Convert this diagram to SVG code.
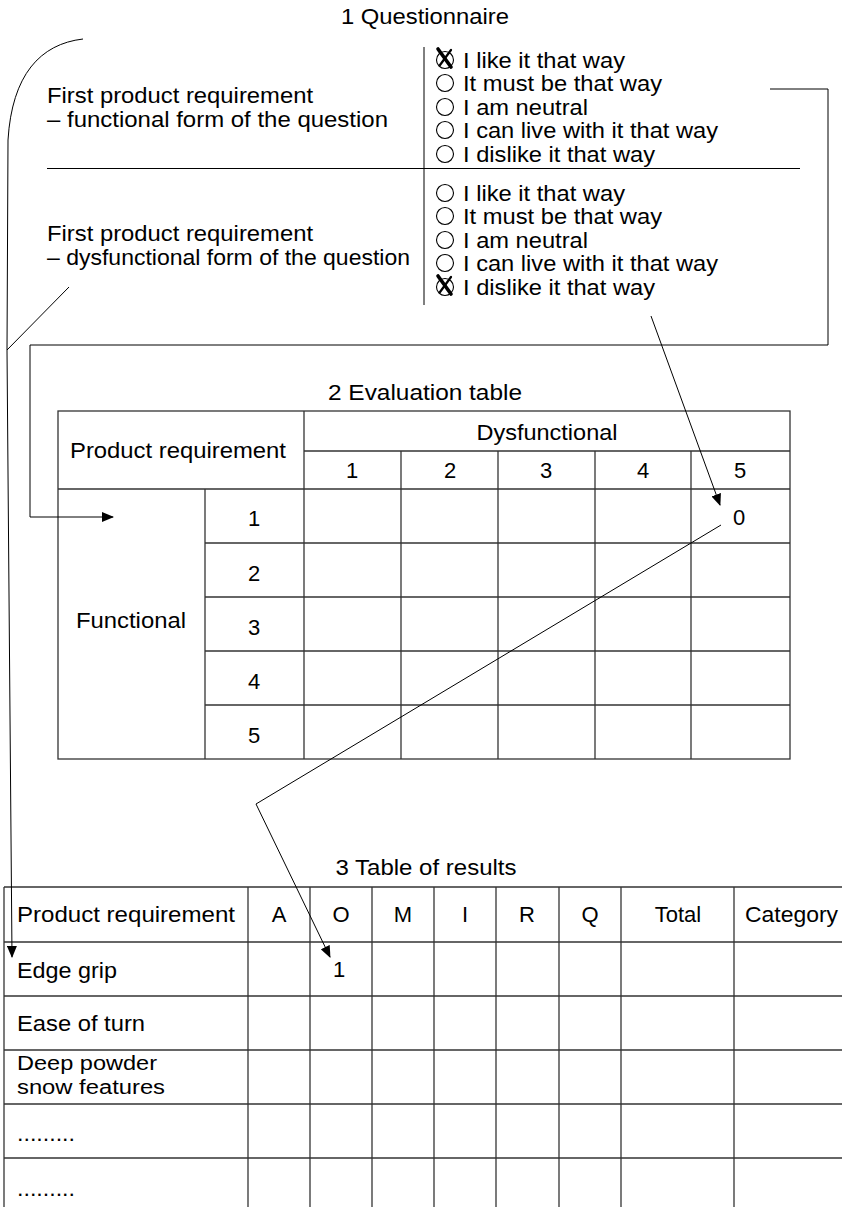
<svg xmlns="http://www.w3.org/2000/svg" width="842" height="1207" viewBox="0 0 842 1207">
<defs>
<style>
.t{font-family:"Liberation Sans",Arial,Helvetica,sans-serif;font-size:22px;fill:#000}
.s{font-size:20px}
.c{text-anchor:middle}
.ln{stroke:#000;stroke-width:1;fill:none}
.grid{stroke:#333;stroke-width:1.3;fill:none}
.rb{stroke:#000;stroke-width:1.1;fill:none}
.xk{stroke:#000;fill:none;stroke-linecap:round}
</style>
<marker id="ah" markerUnits="userSpaceOnUse" markerWidth="12" markerHeight="10" refX="11" refY="5" orient="auto">
<path d="M0,0 L12,5 L0,10 Z" fill="#000"/>
</marker>
</defs>
<rect width="842" height="1207" fill="#fff"/>

<g id="questionnaire">
<text class="t c" x="425" y="24" textLength="168" lengthAdjust="spacingAndGlyphs">1 Questionnaire</text>
<line class="ln" x1="424" y1="47" x2="424" y2="305"/>
<line class="ln" x1="47" y1="168.5" x2="800" y2="168.5"/>
<text class="t" x="47" y="103" textLength="266" lengthAdjust="spacingAndGlyphs">First product requirement</text>
<text class="t" x="47" y="127" textLength="341" lengthAdjust="spacingAndGlyphs">– functional form of the question</text>
<text class="t" x="47" y="241" textLength="266" lengthAdjust="spacingAndGlyphs">First product requirement</text>
<text class="t" x="47" y="265" textLength="363" lengthAdjust="spacingAndGlyphs">– dysfunctional form of the question</text>
</g>

<g id="options-functional">
<circle class="rb" cx="445" cy="60" r="8.5"/>
<path class="xk" d="M438,49 L451,67" stroke-width="3.6"/>
<path class="xk" d="M451,50 L440,65" stroke-width="2.2"/>
<circle class="rb" cx="445" cy="83" r="8.5"/>
<circle class="rb" cx="445" cy="107" r="8.5"/>
<circle class="rb" cx="445" cy="130" r="8.5"/>
<circle class="rb" cx="445" cy="154" r="8.5"/>
<text class="t" x="463" y="68" textLength="162" lengthAdjust="spacingAndGlyphs">I like it that way</text>
<text class="t" x="463" y="91" textLength="199" lengthAdjust="spacingAndGlyphs">It must be that way</text>
<text class="t" x="463" y="115" textLength="125" lengthAdjust="spacingAndGlyphs">I am neutral</text>
<text class="t" x="463" y="138" textLength="255" lengthAdjust="spacingAndGlyphs">I can live with it that way</text>
<text class="t" x="463" y="162" textLength="192" lengthAdjust="spacingAndGlyphs">I dislike it that way</text>
</g>

<g id="options-dysfunctional">
<circle class="rb" cx="445" cy="193" r="8.5"/>
<circle class="rb" cx="445" cy="216" r="8.5"/>
<circle class="rb" cx="445" cy="240" r="8.5"/>
<circle class="rb" cx="445" cy="263" r="8.5"/>
<circle class="rb" cx="445" cy="287" r="8.5"/>
<path class="xk" d="M438,276 L451,294" stroke-width="3.6"/>
<path class="xk" d="M451,277 L440,292" stroke-width="2.2"/>
<text class="t" x="463" y="201" textLength="162" lengthAdjust="spacingAndGlyphs">I like it that way</text>
<text class="t" x="463" y="224" textLength="199" lengthAdjust="spacingAndGlyphs">It must be that way</text>
<text class="t" x="463" y="248" textLength="125" lengthAdjust="spacingAndGlyphs">I am neutral</text>
<text class="t" x="463" y="271" textLength="255" lengthAdjust="spacingAndGlyphs">I can live with it that way</text>
<text class="t" x="463" y="295" textLength="192" lengthAdjust="spacingAndGlyphs">I dislike it that way</text>
</g>

<g id="evaluation-table">
<text class="t c" x="425" y="400" textLength="194" lengthAdjust="spacingAndGlyphs">2 Evaluation table</text>
<rect class="grid" x="58" y="411" width="732" height="348"/>
<line class="grid" x1="304" y1="411" x2="304" y2="759"/>
<line class="grid" x1="304" y1="451" x2="790" y2="451"/>
<line class="grid" x1="58" y1="489" x2="790" y2="489"/>
<line class="grid" x1="205" y1="489" x2="205" y2="759"/>
<line class="grid" x1="401" y1="451" x2="401" y2="759"/>
<line class="grid" x1="498" y1="451" x2="498" y2="759"/>
<line class="grid" x1="595" y1="451" x2="595" y2="759"/>
<line class="grid" x1="691" y1="451" x2="691" y2="759"/>
<line class="grid" x1="205" y1="543" x2="790" y2="543"/>
<line class="grid" x1="205" y1="597" x2="790" y2="597"/>
<line class="grid" x1="205" y1="651" x2="790" y2="651"/>
<line class="grid" x1="205" y1="705" x2="790" y2="705"/>
<text class="t" x="70" y="458" textLength="216" lengthAdjust="spacingAndGlyphs">Product requirement</text>
<text class="t c" x="547" y="440" textLength="141" lengthAdjust="spacingAndGlyphs">Dysfunctional</text>
<text class="t c" x="352" y="478">1</text>
<text class="t c" x="450" y="478">2</text>
<text class="t c" x="546" y="478">3</text>
<text class="t c" x="643" y="478">4</text>
<text class="t c" x="740" y="478">5</text>
<text class="t c" x="131" y="628" textLength="110" lengthAdjust="spacingAndGlyphs">Functional</text>
<text class="t c" x="254" y="526">1</text>
<text class="t c" x="254" y="581">2</text>
<text class="t c" x="254" y="635">3</text>
<text class="t c" x="254" y="689">4</text>
<text class="t c" x="254" y="743">5</text>
<text class="t c" x="739" y="525">0</text>
</g>

<g id="results-table">
<text class="t c" x="426" y="875" textLength="181" lengthAdjust="spacingAndGlyphs">3 Table of results</text>
<line class="grid" x1="4" y1="887" x2="842" y2="887"/>
<line class="grid" x1="4" y1="887" x2="4" y2="1207"/>
<line class="grid" x1="4" y1="942" x2="842" y2="942"/>
<line class="grid" x1="4" y1="996" x2="842" y2="996"/>
<line class="grid" x1="4" y1="1050" x2="842" y2="1050"/>
<line class="grid" x1="4" y1="1104" x2="842" y2="1104"/>
<line class="grid" x1="4" y1="1158" x2="842" y2="1158"/>
<line class="grid" x1="248" y1="887" x2="248" y2="1207"/>
<line class="grid" x1="310" y1="887" x2="310" y2="1207"/>
<line class="grid" x1="372" y1="887" x2="372" y2="1207"/>
<line class="grid" x1="434" y1="887" x2="434" y2="1207"/>
<line class="grid" x1="496" y1="887" x2="496" y2="1207"/>
<line class="grid" x1="559" y1="887" x2="559" y2="1207"/>
<line class="grid" x1="621" y1="887" x2="621" y2="1207"/>
<line class="grid" x1="734" y1="887" x2="734" y2="1207"/>
<text class="t" x="17" y="922" textLength="218" lengthAdjust="spacingAndGlyphs">Product requirement</text>
<text class="t c" x="279" y="922">A</text>
<text class="t c" x="341" y="922">O</text>
<text class="t c" x="403" y="922">M</text>
<text class="t c" x="465" y="922">I</text>
<text class="t c" x="527" y="922">R</text>
<text class="t c" x="590" y="922">Q</text>
<text class="t c" x="678" y="922">Total</text>
<text class="t" x="745" y="922" textLength="93" lengthAdjust="spacingAndGlyphs">Category</text>
<text class="t" x="17" y="978" textLength="100" lengthAdjust="spacingAndGlyphs">Edge grip</text>
<text class="t" x="17" y="1031" textLength="128" lengthAdjust="spacingAndGlyphs">Ease of turn</text>
<text class="t s" x="17" y="1070" textLength="140" lengthAdjust="spacingAndGlyphs">Deep powder</text>
<text class="t s" x="17" y="1094" textLength="148" lengthAdjust="spacingAndGlyphs">snow features</text>
<text class="t" x="17" y="1141" textLength="58" lengthAdjust="spacingAndGlyphs">.........</text>
<text class="t" x="17" y="1196" textLength="58" lengthAdjust="spacingAndGlyphs">.........</text>
<text class="t c" x="339" y="977">1</text>
</g>

<g id="connectors">
<path class="ln" d="M83,39 C40,44 12,75 8,140 L7,350 L12,957" marker-end="url(#ah)"/>
<line class="ln" x1="69" y1="287" x2="7" y2="350"/>
<path class="ln" d="M770,89 L828,89 L828,345 L30,345 L30,517 L113,517" marker-end="url(#ah)"/>
<line class="ln" x1="651" y1="316" x2="720" y2="505" marker-end="url(#ah)"/>
<path class="ln" d="M721,525 L256,804 L330,957" marker-end="url(#ah)"/>
</g>
</svg>
